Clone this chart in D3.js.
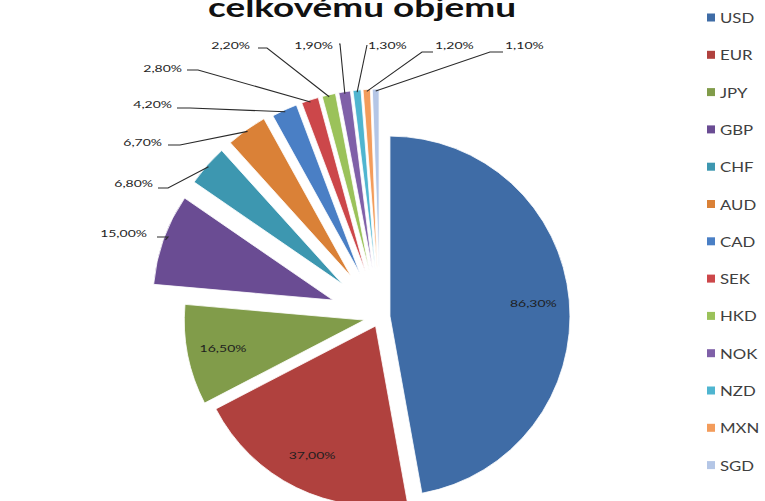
<!DOCTYPE html>
<html>
<head>
<meta charset="utf-8">
<script src="https://cdn.jsdelivr.net/npm/d3@7"></script>
<style>
  html, body { margin: 0; padding: 0; background: #ffffff; }
  svg { display: block; }
  text { font-family: Lato, "Open Sans", sans-serif; }
</style>
</head>
<body>
<svg id="chart" width="765" height="501"></svg>
<script>
// Podíl měn na celkovém objemu obchodů (součet podílů = 200 %)
const currencies = ["USD", "EUR", "JPY", "GBP", "CHF", "AUD", "CAD", "SEK", "HKD", "NOK", "NZD", "MXN", "SGD"];
const shares = [86.3, 37.0, 16.5, 15.0, 6.8, 6.7, 4.2, 2.8, 2.2, 1.9, 1.3, 1.2, 1.1];
const sliceColors = ["#3f6ca6", "#b0413e", "#819c4a", "#6a4c93", "#3d97b0", "#da8137",
                     "#4a7fc5", "#cc474a", "#9bc25a", "#7f60a8", "#4fb5d0", "#f39c5b", "#b4c6e6"];
const titleText = "celkovému objemu";

const fmt = v => d3.format(".2f")(v).replace(".", ",") + "%";

const svg = d3.select("#chart");
const W = 765, H = 501;
svg.append("rect").attr("width", W).attr("height", H).attr("fill", "#ffffff");

// pie geometry
const cx = 380, cy = 317, R = 180;
// how far each slice is pulled out of the pie
const explode = [10, 10, 16, 50, 50, 50, 48, 48, 48, 48, 48, 48, 48];

const pie = d3.pie().sort(null).value(d => d).startAngle(0).endAngle(2 * Math.PI);
const arcs = pie(shares);
const arcGen = d3.arc().innerRadius(0).outerRadius(R);

const dir = a => [Math.sin(a), -Math.cos(a)];

const g = svg.append("g");
arcs.forEach((a, i) => {
  const mid = (a.startAngle + a.endAngle) / 2;
  const [dx, dy] = dir(mid);
  a.apex = [cx + dx * explode[i], cy + dy * explode[i]];
  a.mid = mid;
  g.append("path")
    .attr("d", arcGen(a))
    .attr("transform", `translate(${a.apex[0]},${a.apex[1]})`)
    .attr("fill", sliceColors[i])
    .attr("stroke", "#ffffff")
    .attr("stroke-width", 0.8);
});

// value labels
const labelScale = 1.4;
const labelFont = 10;
function label(x, y, txt, anchor) {
  svg.append("text")
    .attr("transform", `translate(${x},${y}) scale(${labelScale},1)`)
    .attr("text-anchor", anchor)
    .attr("font-size", labelFont)
    .attr("fill", "#1e1e1e")
    .text(txt);
}

// the three largest slices carry their label inside
arcs.slice(0, 3).forEach((a, i) => {
  const [dx, dy] = dir(a.mid);
  const k = R * 0.8;
  label(a.apex[0] + dx * k, a.apex[1] + dy * k + 3.5, fmt(shares[i]), "middle");
});

// the rest get a leader line to a label outside the pie
// [label x, baseline y, anchor, leader start x, leader start y, elbow x]
const outside = {
  3:  [147, 237, "end",   157, 237, 168],
  4:  [153, 187, "end",   158, 188, 168],
  5:  [162, 146, "end",   168, 145, 180],
  6:  [172, 108, "end",   177, 108, 190],
  7:  [182,  72, "end",   187,  70, 198],
  8:  [250,  49, "end",   258,  48, 267],
  9:  [333,  49, "end",   339,  44, 340],
  10: [368,  49, "start", 367,  45, 367],
  11: [435,  49, "start", 433,  52, 422],
  12: [505,  49, "start", 503,  52, 490]
};
Object.keys(outside).forEach(key => {
  const i = +key;
  const a = arcs[i];
  const [lx, ly, anchor, sx, sy, ex] = outside[key];
  const [dx, dy] = dir(a.mid);
  const tip = [a.apex[0] + dx * (R - 2), a.apex[1] + dy * (R - 2)];
  svg.append("path")
    .attr("d", d3.line()([[sx, sy], [ex, sy], tip]))
    .attr("fill", "none")
    .attr("stroke", "#2a2a2a")
    .attr("stroke-width", 1.1);
  label(lx, ly, fmt(shares[i]), anchor);
});

// title (second line of the heading)
svg.append("text")
  .attr("transform", `translate(362,17) scale(1.42,1)`)
  .attr("text-anchor", "middle")
  .attr("font-size", 26)
  .attr("font-weight", 700)
  .attr("fill", "#111111")
  .text(titleText);

// legend
const legend = svg.append("g");
currencies.forEach((c, i) => {
  const y = 18 + i * 37.3;
  legend.append("rect")
    .attr("x", 707).attr("y", y - 4.5)
    .attr("width", 8).attr("height", 8)
    .attr("fill", sliceColors[i]);
  legend.append("text")
    .attr("transform", `translate(720,${y + 5}) scale(1.2,1)`)
    .attr("font-size", 14)
    .attr("fill", "#404040")
    .text(c);
});
</script>
</body>
</html>
